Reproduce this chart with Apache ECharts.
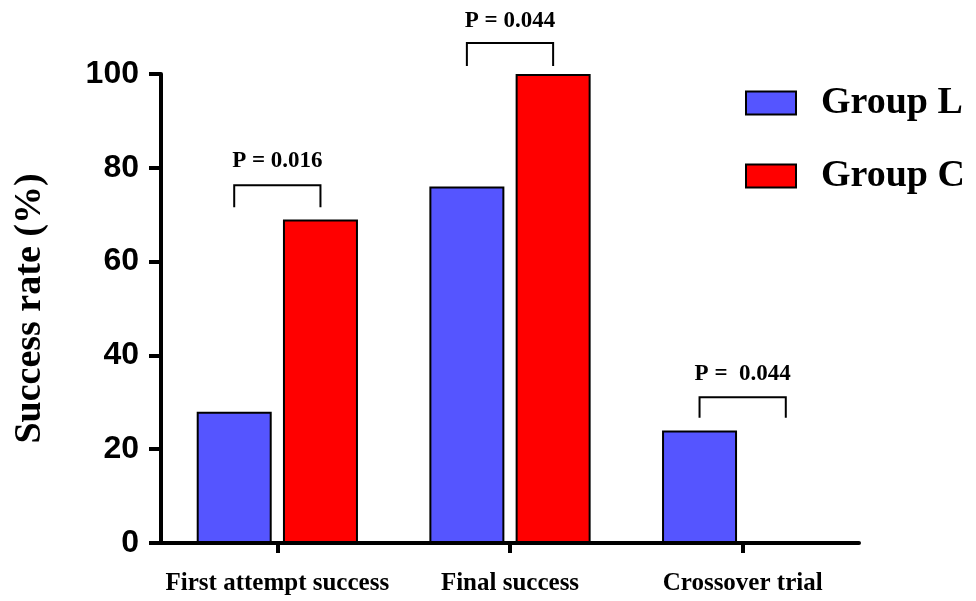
<!DOCTYPE html>
<html>
<head>
<meta charset="utf-8">
<script src="https://cdn.jsdelivr.net/npm/echarts@6/dist/echarts.min.js"></script>
<style>html,body{margin:0;padding:0;background:#fff;}#c{width:976px;height:601px;}</style>
</head>
<body>
<div id="c"></div>
<script>
var categories = ['First attempt success', 'Final success', 'Crossover trial'];
var groupL = [28, 76, 24];
var groupC = [69, 100, 0];
var yTicks = [0, 20, 40, 60, 80, 100];
// bracket annotations: [category index, bracket top, leg bottom, label centre]
var bracketTop = [76.3, 106.6, 31.1];
var bracketLeg = [71.6, 101.7, 26.7];
var labelLevel = [81.5, 111.2, 36.0];
var pLabels = ['P = 0.016', 'P = 0.044', 'P =  0.044'];

var BAR_W = 75, BAR_GAP = 0.15;
var serif = '"Liberation Serif", "Times New Roman", serif';
var sans = '"Liberation Sans", Arial, sans-serif';

var bracketData = categories.map(function (c, i) {
  return [i, bracketTop[i], bracketLeg[i], labelLevel[i]];
});

var chart = echarts.init(document.getElementById('c'));
chart.setOption({
  animation: false,
  backgroundColor: '#fff',
  grid: { left: 161, right: 117, top: 74, bottom: 58, containLabel: false },
  legend: {
    orient: 'vertical',
    left: 740, top: 79,
    icon: 'rect',
    itemWidth: 50, itemHeight: 23, itemGap: 35,
    data: ['Group L', 'Group C'],
    itemStyle: { borderColor: '#000', borderWidth: 2 },
    textStyle: { fontFamily: serif, fontWeight: 'bold', fontSize: 38, color: '#000', padding: [0, 0, 0, 20] }
  },
  xAxis: {
    type: 'category',
    data: categories,
    axisLine: { lineStyle: { color: '#000', width: 4 } },
    axisTick: { show: true, alignWithLabel: true, interval: 0, length: 10, lineStyle: { color: '#000', width: 4 } },
    axisLabel: { interval: 0, hideOverlap: false, fontFamily: serif, fontWeight: 'bold', fontSize: 25, color: '#000', margin: 28 }
  },
  yAxis: {
    type: 'value',
    min: 0, max: 100, interval: 20,
    name: 'Success rate (%)',
    nameLocation: 'middle',
    nameGap: 112,
    nameTextStyle: { fontFamily: serif, fontWeight: 'bold', fontSize: 38, color: '#000' },
    splitLine: { show: false },
    axisLine: { show: true, lineStyle: { color: '#000', width: 4 } },
    axisTick: { show: true, length: 12, lineStyle: { color: '#000', width: 4 } },
    axisLabel: {
      fontFamily: sans, fontWeight: 'bold', fontSize: 32, color: '#000', margin: 22,
      formatter: function (v) { return yTicks.indexOf(v) >= 0 ? String(v) : ''; }
    }
  },
  series: [
    {
      name: 'Group L', type: 'bar', data: groupL,
      barWidth: BAR_W, barGap: (BAR_GAP * 100) + '%',
      itemStyle: { color: '#5555FF', borderColor: '#000', borderWidth: 2 }
    },
    {
      name: 'Group C', type: 'bar', data: groupC,
      barWidth: BAR_W, barGap: (BAR_GAP * 100) + '%',
      itemStyle: { color: '#FF0000', borderColor: '#000', borderWidth: 2 }
    },
    {
      type: 'custom',
      clip: false,
      silent: true,
      data: bracketData,
      encode: { x: 0, y: 1 },
      renderItem: function (params, api) {
        var cat = api.value(0);
        var top = api.coord([cat, api.value(1)]);
        var leg = api.coord([cat, api.value(2)]);
        var lab = api.coord([cat, api.value(3)]);
        var off = (BAR_W + BAR_W * BAR_GAP) / 2;
        var xl = top[0] - off, xr = top[0] + off;
        return {
          type: 'group',
          children: [
            {
              type: 'polyline',
              shape: { points: [[xl, leg[1]], [xl, top[1]], [xr, top[1]], [xr, leg[1]]] },
              style: { stroke: '#000', lineWidth: 2, fill: null }
            },
            {
              type: 'text',
              x: top[0], y: lab[1],
              style: {
                text: pLabels[params.dataIndex],
                font: 'bold 23px ' + serif,
                align: 'center', verticalAlign: 'middle', fill: '#000'
              }
            }
          ]
        };
      }
    }
  ]
});
</script>
</body>
</html>
